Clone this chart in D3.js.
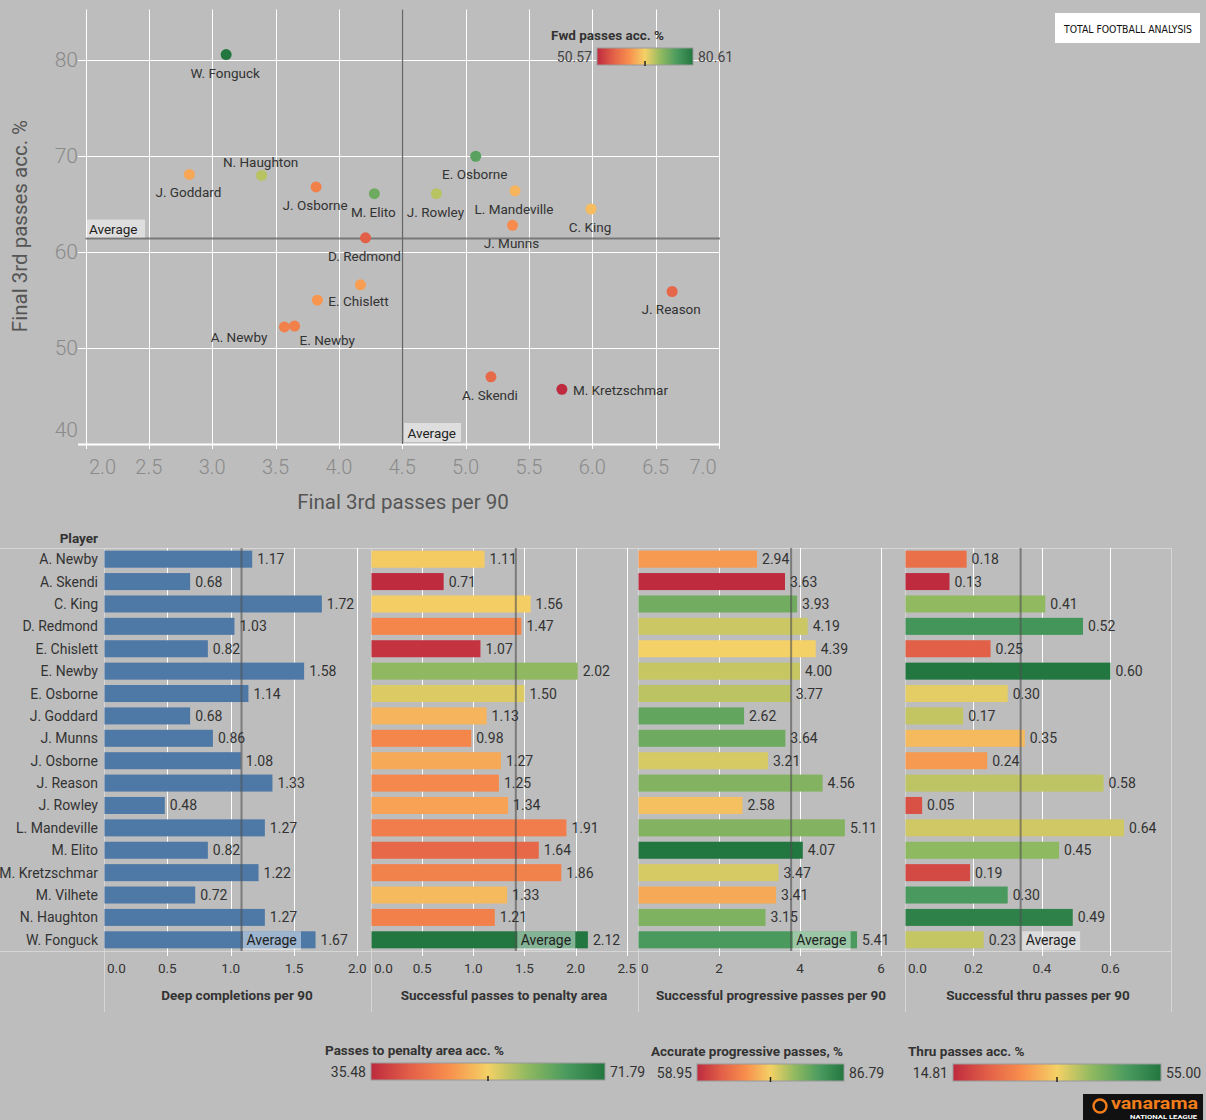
<!DOCTYPE html>
<html><head><meta charset="utf-8">
<script src="https://cdn.jsdelivr.net/npm/d3@7"></script>
<style>
html,body{margin:0;padding:0;background:#bdbdbd;}
svg{display:block;font-family:Roboto,Lato,sans-serif;}
</style></head><body>
<svg id="c" width="1206" height="1120"></svg>
<script>
// ---------------- DATA ----------------
const players = ["A. Newby","A. Skendi","C. King","D. Redmond","E. Chislett","E. Newby","E. Osborne","J. Goddard","J. Munns","J. Osborne","J. Reason","J. Rowley","L. Mandeville","M. Elito","M. Kretzschmar","M. Vilhete","N. Haughton","W. Fonguck"];
// scatter
const final3rdPer90 = [3.57,5.20,5.99,4.21,3.83,3.65,5.08,2.82,5.37,3.82,6.63,4.77,5.39,4.28,5.76,4.17,3.39,3.11];
const final3rdAcc   = [52.2,47.0,64.5,61.5,55.0,52.3,70.0,68.1,62.8,66.8,55.9,66.1,66.4,66.1,45.7,56.6,68.0,80.6];
const fwdPassAcc    = [59.0,56.6,64.1,55.7,61.1,59.0,74.6,62.3,60.2,59.0,56.3,68.6,63.5,73.1,50.57,61.7,68.6,80.61];
// bars
const deepCompletions = [1.17,0.68,1.72,1.03,0.82,1.58,1.14,0.68,0.86,1.08,1.33,0.48,1.27,0.82,1.22,0.72,1.27,1.67];
const penaltyPasses   = [1.11,0.71,1.56,1.47,1.07,2.02,1.50,1.13,0.98,1.27,1.25,1.34,1.91,1.64,1.86,1.33,1.21,2.12];
const penaltyAcc      = [53.0,35.48,53.3,46.4,36.5,59.8,55.1,51.1,46.4,50.0,46.7,49.3,45.3,42.7,46.0,51.5,45.7,71.79];
const progPasses      = [2.94,3.63,3.93,4.19,4.39,4.00,3.77,2.62,3.64,3.21,4.56,2.58,5.11,4.07,3.47,3.41,3.15,5.41];
const progAcc         = [69.0,58.95,79.5,74.8,72.9,75.0,75.5,80.6,79.8,74.3,78.4,71.7,78.4,86.79,74.3,70.1,78.7,82.3];
const thruPasses      = [0.18,0.13,0.41,0.52,0.25,0.60,0.30,0.17,0.35,0.24,0.58,0.05,0.64,0.45,0.19,0.30,0.49,0.23];
const thruAcc         = [23.9,14.81,41.6,49.4,21.6,55.00,36.0,38.2,32.6,29.3,38.5,19.8,37.3,41.7,18.8,48.4,53.0,38.1];
// axes / text
const scatterXTicks = [2.0,2.5,3.0,3.5,4.0,4.5,5.0,5.5,6.0,6.5,7.0];
const scatterYTicks = [40,50,60,70,80];
const panelTicks = [[0,0.5,1.0,1.5,2.0],[0,0.5,1.0,1.5,2.0,2.5],[0,2,4,6],[0,0.2,0.4,0.6]];
const panelTickFmt = [".1f",".1f","d",".1f"];
const panelTitles = ["Deep completions per 90","Successful passes to penalty area","Successful progressive passes per 90","Successful thru passes per 90"];
const legendTitles = ["Passes to penalty area acc. %","Accurate progressive passes, %","Thru passes acc. %"];
const scatterLegendTitle = "Fwd passes acc. %";
// label placement codes for scatter (b=below, a=above, r=right, l=left-low, rl=right-low, n=none)
const labelCode = ["l","b","b","b","r","rl","b","b","b","b","b","b","b","b","r","n","a","b"];
const palette = ["#be2a3e","#e25f48","#f88f4d","#f4d166","#90b960","#4b9b5f","#22763f"];

// ---------------- HELPERS ----------------
const svg = d3.select("#c");
const px = v => Math.round(v) + 0.5;
function colorScale(vals){
  const [lo,hi] = d3.extent(vals);
  return d3.scaleLinear().domain(palette.map((_,i)=>lo+(hi-lo)*i/(palette.length-1)))
    .range(palette).interpolate(d3.interpolateRgb).clamp(true);
}
const defs = svg.append("defs");
const grad = defs.append("linearGradient").attr("id","gradRYG");
palette.forEach((c,i)=>grad.append("stop").attr("offset",(i/(palette.length-1)*100)+"%").attr("stop-color",c));

function legend(x0, barX0, barX1, yTitle, yBar, title, vals){
  const [lo,hi] = d3.extent(vals);
  svg.append("text").attr("x",x0).attr("y",yTitle).attr("font-size",13.5).attr("font-weight",700)
    .attr("fill","#333").text(title);
  svg.append("rect").attr("x",barX0).attr("y",yBar).attr("width",barX1-barX0).attr("height",17)
    .attr("fill","url(#gradRYG)").attr("stroke","#9a9a9a").attr("stroke-width",1);
  svg.append("line").attr("x1",(barX0+barX1)/2).attr("x2",(barX0+barX1)/2).attr("y1",yBar+13).attr("y2",yBar+18)
    .attr("stroke","#222").attr("stroke-width",1.5);
  svg.append("text").attr("x",barX0-5).attr("y",yBar+13.5).attr("text-anchor","end").attr("font-size",14).attr("fill","#333").text(lo.toFixed(2));
  svg.append("text").attr("x",barX1+5).attr("y",yBar+13.5).attr("font-size",14).attr("fill","#333").text(hi.toFixed(2));
}

// ---------------- SCATTER ----------------
const sx = d3.scaleLinear().domain([2,7]).range([85.5,719]);
const sy = d3.scaleLinear().domain([40,85.3]).range([444,9.5]);
const sc = svg.append("g");
scatterXTicks.forEach(t=>{
  sc.append("line").attr("x1",px(sx(t))).attr("x2",px(sx(t))).attr("y1",9.5).attr("y2",449)
    .attr("stroke","#fff").attr("stroke-width",1);
});
scatterYTicks.forEach(t=>{
  sc.append("line").attr("x1",78).attr("x2",720).attr("y1",px(sy(t))).attr("y2",px(sy(t)))
    .attr("stroke","#fff").attr("stroke-width",t===40?2:1);
});
// tick labels
scatterXTicks.forEach((t,i)=>{
  let xx = sx(t);
  if(i===0) xx += 17; if(i===scatterXTicks.length-1) xx -= 16;
  sc.append("text").attr("x",xx).attr("y",474).attr("text-anchor","middle").attr("font-size",20)
    .attr("font-weight",300).attr("fill","#8a8a8a").text(t.toFixed(1));
});
scatterYTicks.forEach((t,i)=>{
  let yy = sy(t) + 7;
  if(i===0) yy -= 14;
  sc.append("text").attr("x",78).attr("y",yy).attr("text-anchor","end").attr("font-size",21)
    .attr("font-weight",300).attr("fill","#8a8a8a").text(t);
});
// titles
sc.append("text").attr("transform","translate(27,226) rotate(-90)").attr("text-anchor","middle")
  .attr("font-size",20.5).attr("fill","#555").text("Final 3rd passes acc. %");
sc.append("text").attr("x",403).attr("y",509).attr("text-anchor","middle")
  .attr("font-size",20.5).attr("fill","#555").text("Final 3rd passes per 90");
// averages
const avgX = d3.mean(final3rdPer90), avgY = d3.mean(final3rdAcc);
sc.append("line").attr("x1",85.5).attr("x2",720).attr("y1",sy(avgY)).attr("y2",sy(avgY))
  .attr("stroke","#6e6e6e").attr("stroke-width",2).attr("opacity",0.85);
sc.append("line").attr("x1",sx(avgX)).attr("x2",sx(avgX)).attr("y1",9.5).attr("y2",444)
  .attr("stroke","#666").attr("stroke-width",1.2);
sc.append("rect").attr("x",86).attr("y",sy(avgY)-19).attr("width",59).attr("height",18).attr("fill","#fff").attr("opacity",0.5);
sc.append("text").attr("x",89).attr("y",sy(avgY)-5).attr("font-size",13.5).attr("fill","#222").text("Average");
sc.append("rect").attr("x",sx(avgX)+1.5).attr("y",423).attr("width",57).attr("height",19).attr("fill","#fff").attr("opacity",0.5);
sc.append("text").attr("x",sx(avgX)+5).attr("y",438).attr("font-size",13.5).attr("fill","#222").text("Average");
// points
const cFwd = colorScale(fwdPassAcc);
players.forEach((p,i)=>{
  const cx = sx(final3rdPer90[i]), cy = sy(final3rdAcc[i]);
  sc.append("circle").attr("cx",cx).attr("cy",cy).attr("r",5.5).attr("fill",cFwd(fwdPassAcc[i]));
  const code = labelCode[i];
  if(code==="n") return;
  let dx=-1, dy=23, anchor="middle";
  if(code==="a"){dy=-8;}
  if(code==="r"){dx=11; dy=6; anchor="start";}
  if(code==="l"){dx=-17; dy=15; anchor="end";}
  if(code==="rl"){dx=5; dy=19; anchor="start";}
  sc.append("text").attr("x",cx+dx).attr("y",cy+dy).attr("text-anchor",anchor)
    .attr("font-size",13.5).attr("fill","#333").text(p);
});
// scatter legend
(function(){
  const lo = d3.min(fwdPassAcc), hi = d3.max(fwdPassAcc);
  svg.append("text").attr("x",551).attr("y",40).attr("font-size",13.5).attr("font-weight",700).attr("fill","#333").text(scatterLegendTitle);
  svg.append("rect").attr("x",597).attr("y",48).attr("width",96).attr("height",17).attr("fill","url(#gradRYG)").attr("stroke","#9a9a9a");
  svg.append("line").attr("x1",645).attr("x2",645).attr("y1",61).attr("y2",66).attr("stroke","#222").attr("stroke-width",1.5);
  svg.append("text").attr("x",592).attr("y",61.5).attr("text-anchor","end").attr("font-size",14).attr("fill","#444").text(lo.toFixed(2));
  svg.append("text").attr("x",698).attr("y",61.5).attr("font-size",14).attr("fill","#444").text(hi.toFixed(2));
})();

// ---------------- BAR PANELS ----------------
const band = d3.scaleBand().domain(players).range([548,951]).paddingInner(0.24).paddingOuter(0.12);
const panelMax = [2.1,2.6,6.57,0.777];
const panelVals = [deepCompletions,penaltyPasses,progPasses,thruPasses];
const panelColorVals = [null,penaltyAcc,progAcc,thruAcc];
const bp = svg.append("g");
// frame lines
bp.append("line").attr("x1",0).attr("x2",1172).attr("y1",548.5).attr("y2",548.5).attr("stroke","#d6d6d6");
bp.append("line").attr("x1",0).attr("x2",1172).attr("y1",951.5).attr("y2",951.5).attr("stroke","#d6d6d6");
// header
bp.append("text").attr("x",98).attr("y",543).attr("text-anchor","end").attr("font-size",13.5).attr("font-weight",700).attr("fill","#333").text("Player");
players.forEach(p=>{
  bp.append("text").attr("x",98).attr("y",band(p)+band.bandwidth()/2+5).attr("text-anchor","end")
    .attr("font-size",14).attr("fill","#333").text(p);
});
const panelLeft = [104,371,638,905];
panelLeft.forEach((L,k)=>{
  const x = d3.scaleLinear().domain([0,panelMax[k]]).range([L,L+266]);
  const g = bp.append("g");
  // separators
  g.append("line").attr("x1",px(L)).attr("x2",px(L)).attr("y1",548).attr("y2",1012).attr("stroke","#d6d6d6");
  if(k===3) g.append("line").attr("x1",px(L+266)).attr("x2",px(L+266)).attr("y1",548).attr("y2",1012).attr("stroke","#d6d6d6");
  // grid + tick labels
  const fmt = d3.format(panelTickFmt[k]);
  panelTicks[k].forEach((t,j)=>{
    if(t>0) g.append("line").attr("x1",px(x(t))).attr("x2",px(x(t))).attr("y1",548).attr("y2",956).attr("stroke","#fff");
    const tx = j===0 ? L+3 : x(t);
    g.append("text").attr("x",tx).attr("y",973).attr("text-anchor",j===0?"start":"middle")
      .attr("font-size",13.5).attr("fill","#333").text(fmt(t));
  });
  g.append("text").attr("x",L+133).attr("y",1000).attr("text-anchor","middle").attr("font-size",13.5)
    .attr("font-weight",700).attr("fill","#333").text(panelTitles[k]);
  const cs = panelColorVals[k] ? colorScale(panelColorVals[k]) : null;
  players.forEach((p,i)=>{
    const v = panelVals[k][i];
    g.append("rect").attr("x",L+0.5).attr("y",band(p)).attr("width",x(v)-L-0.5).attr("height",band.bandwidth())
      .attr("fill",cs ? cs(panelColorVals[k][i]) : "#4e79a7");
  });
  const avg = d3.mean(panelVals[k]);
  g.append("line").attr("x1",x(avg)).attr("x2",x(avg)).attr("y1",548).attr("y2",951)
    .attr("stroke","#505050").attr("stroke-width",2).attr("opacity",0.6);
  const last = players[players.length-1];
  g.append("rect").attr("x",x(avg)+1.5).attr("y",band(last)).attr("width",58).attr("height",band.bandwidth()+2)
    .attr("fill","#fff").attr("opacity",0.45);
  g.append("text").attr("x",x(avg)+5).attr("y",band(last)+band.bandwidth()/2+5).attr("font-size",14).attr("fill","#222").text("Average");
  players.forEach((p,i)=>{
    const v = panelVals[k][i];
    g.append("text").attr("x",x(v)+5).attr("y",band(p)+band.bandwidth()/2+5).attr("font-size",14)
      .attr("fill","#333").text(v.toFixed(2));
  });
});

// ---------------- LEGENDS ----------------
legend(325,371,605,1055,1063,legendTitles[0],penaltyAcc);
legend(651,697,844,1056,1064,legendTitles[1],progAcc);
legend(908,953,1161,1056,1064,legendTitles[2],thruAcc);

// ---------------- LOGOS ----------------
svg.append("rect").attr("x",1055).attr("y",13).attr("width",145).attr("height",30).attr("fill","#fff");
svg.append("text").attr("x",1064).attr("y",33).attr("font-family","'DejaVu Sans Condensed',sans-serif").attr("font-size",11)
  .attr("textLength",128).attr("lengthAdjust","spacingAndGlyphs").attr("fill","#111").text("TOTAL FOOTBALL ANALYSIS");
svg.append("rect").attr("x",1083).attr("y",1094).attr("width",120).attr("height",26).attr("fill","#111");
svg.append("circle").attr("cx",1100).attr("cy",1106).attr("r",6.5).attr("fill","none").attr("stroke","#f07d1a").attr("stroke-width",2.4);
svg.append("text").attr("x",1111).attr("y",1109).attr("font-size",16).attr("font-weight",700).attr("fill","#f07d1a")
  .attr("textLength",87).attr("lengthAdjust","spacingAndGlyphs").text("vanarama");
svg.append("text").attr("x",1130).attr("y",1119).attr("font-size",5.5).attr("font-weight",700).attr("fill","#fff")
  .attr("textLength",67).attr("lengthAdjust","spacingAndGlyphs").text("NATIONAL LEAGUE");
</script>
</body></html>
